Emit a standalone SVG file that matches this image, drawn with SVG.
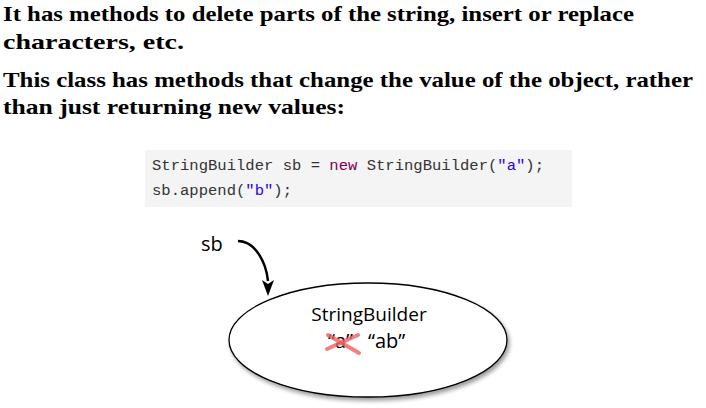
<svg xmlns="http://www.w3.org/2000/svg" width="706" height="408" viewBox="0 0 706 408">
<defs>
<style>
.head{font-family:"Liberation Serif","DejaVu Serif",serif;font-weight:bold;font-size:22px;fill:#000}
.code{font-family:"Liberation Mono","DejaVu Sans Mono",monospace;font-size:15.5px;fill:#333}
.kw{fill:#7f0055}
.str{fill:#2a00ff}
.lbl{font-family:"Open Sans","Noto Sans","Liberation Sans",sans-serif;font-size:19px;fill:#000}
.big{font-size:20px}
.cross{stroke:#f06060;stroke-opacity:0.8;stroke-width:4;stroke-linecap:round}
</style>
<filter id="sh" x="-10%" y="-10%" width="125%" height="130%">
<feGaussianBlur in="SourceAlpha" stdDeviation="2"/>
<feOffset dx="2" dy="3" result="b"/>
<feComponentTransfer><feFuncA type="linear" slope="0.4"/></feComponentTransfer>
<feMerge><feMergeNode/><feMergeNode in="SourceGraphic"/></feMerge>
</filter>
</defs>
<rect width="706" height="408" fill="#fff"/>
<g id="text">
<text class="head" x="3" y="21" textLength="631" lengthAdjust="spacingAndGlyphs">It has methods to delete parts of the string, insert or replace</text>
<text class="head" x="3" y="49" textLength="181" lengthAdjust="spacingAndGlyphs">characters, etc.</text>
<text class="head" x="3" y="87" textLength="690" lengthAdjust="spacingAndGlyphs">This class has methods that change the value of the object, rather</text>
<text class="head" x="3" y="114" textLength="342" lengthAdjust="spacingAndGlyphs">than just returning new values:</text>
</g>
<g id="code">
<rect x="145" y="150" width="427" height="57" fill="#f4f4f4"/>
<text class="code" x="152" y="170" textLength="392" lengthAdjust="spacingAndGlyphs">StringBuilder sb = <tspan class="kw">new</tspan> StringBuilder(<tspan class="str">"a"</tspan>);</text>
<text class="code" x="152" y="195" textLength="140" lengthAdjust="spacingAndGlyphs">sb.append(<tspan class="str">"b"</tspan>);</text>
</g>
<g id="sb">
<text class="lbl big" x="201" y="251">sb</text>
</g>
<g id="object">
<ellipse cx="368" cy="340" rx="139" ry="57" fill="#fff" stroke="#000" stroke-width="1.3" filter="url(#sh)"/>
<text class="lbl" x="369" y="321" text-anchor="middle">StringBuilder</text>
<text class="lbl big" x="328" y="348">“a”</text>
<text class="lbl big" x="368" y="348">“ab”</text>
<line class="cross" x1="328" y1="335" x2="359" y2="353"/>
<line class="cross" x1="327" y1="349" x2="358" y2="335"/>
</g>
<g id="connectors">
<path d="M238,241 C255,241 266,262 268,281" fill="none" stroke="#000" stroke-width="2.5"/>
<path d="M262,280 L268,296 L274,280 L268,284 z" fill="#000"/>
</g>
</svg>
